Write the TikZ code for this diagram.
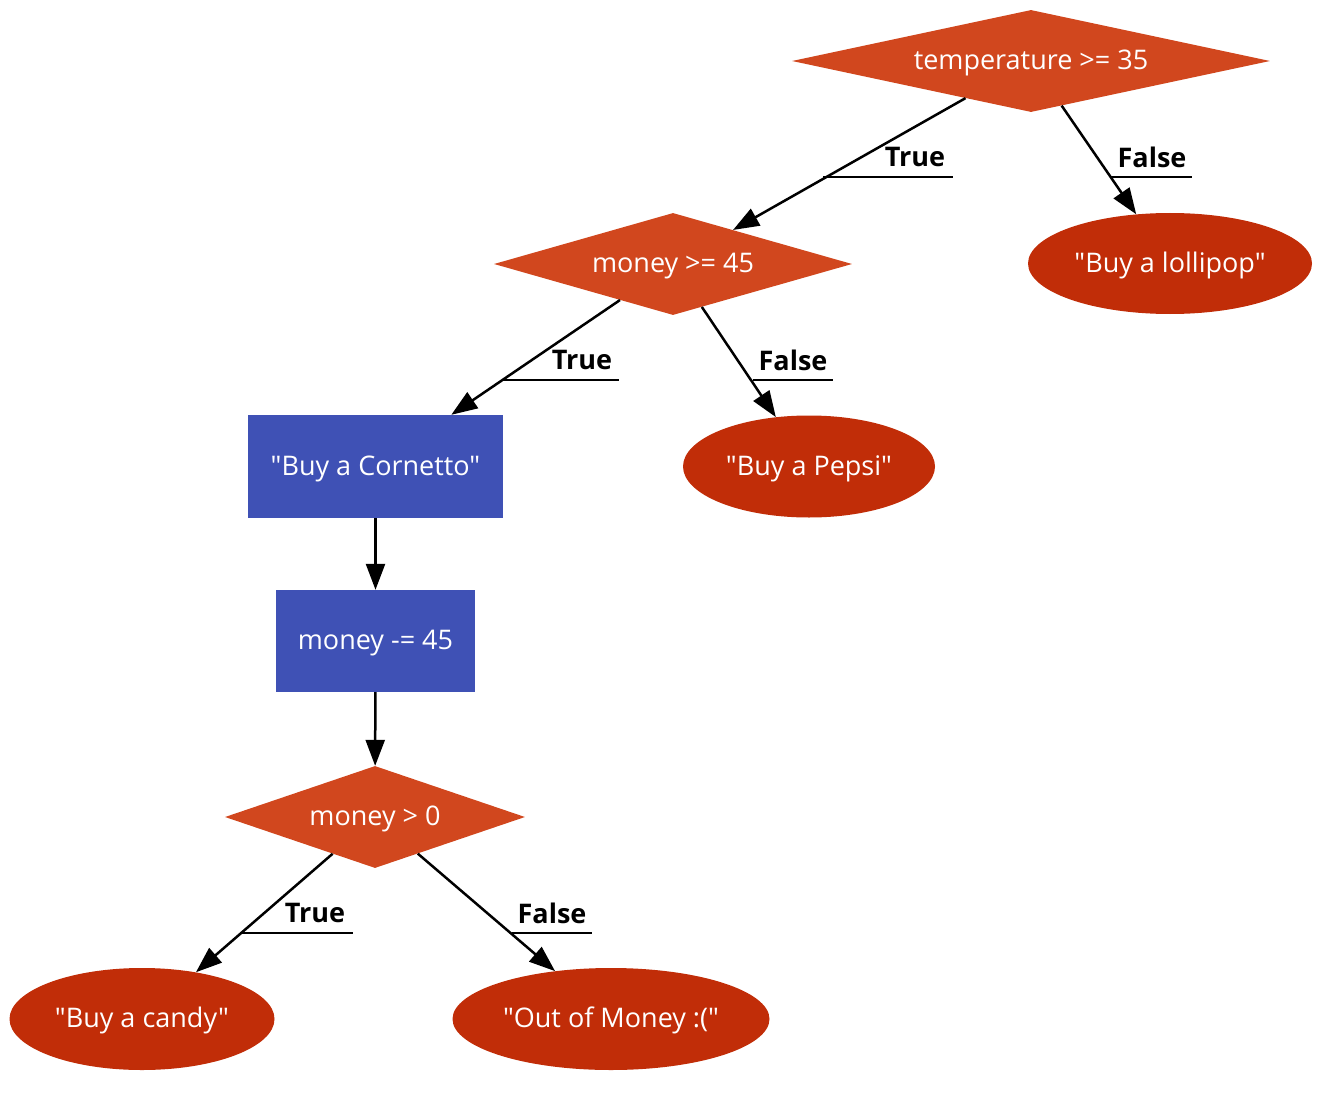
\documentclass[tikz,border=0pt]{standalone}
\usepackage{fontspec}
\setmainfont{Open Sans}[Ligatures=TeXOff]
\usetikzlibrary{shapes.geometric,arrows.meta}
\definecolor{decc}{RGB}{209,71,30}
\definecolor{endc}{RGB}{193,45,8}
\definecolor{actc}{RGB}{63,81,181}
\tikzset{
  base/.style={fill, draw=none, text=white, inner sep=0pt, font=\fontsize{27}{32}\selectfont, text height=21.5pt, text depth=4pt},
  decision/.style={base, fill=decc, diamond},
  terminal/.style={base, fill=endc, ellipse},
  action/.style={base, fill=actc, rectangle},
  edge/.style={line width=2.5pt, -{Triangle[length=26pt,width=19pt]}},
  uline/.style={line width=2.5pt},
  lbl/.style={inner sep=0pt, font=\fontsize{27}{32}\selectfont\bfseries}
}
\begin{document}
\begin{tikzpicture}[x=1pt,y=-1pt]
\useasboundingbox (0,0) rectangle (1336,1094);
\node[decision, shape aspect=4.686, minimum width=478pt, minimum height=102pt] (d1) at (1031,61) {temperature >= 35};
\node[decision, shape aspect=3.51, minimum width=358pt, minimum height=102pt] (d2) at (673,264) {money >= 45};
\node[terminal, minimum width=284pt, minimum height=101pt] (lol) at (1170,263.5) {"Buy a lollipop"};
\node[action, minimum width=255pt, minimum height=103pt] (corn) at (375.5,466.5) {"Buy a Cornetto"};
\node[terminal, minimum width=252pt, minimum height=102pt] (pep) at (809,466.5) {"Buy a Pepsi"};
\node[action, minimum width=199pt, minimum height=102pt] (sub) at (375.5,641) {money -= 45};
\node[decision, shape aspect=2.94, minimum width=300pt, minimum height=102pt] (d3) at (375,817) {money > 0};
\node[terminal, minimum width=265pt, minimum height=102pt] (candy) at (142,1019) {"Buy a candy"};
\node[terminal, minimum width=317pt, minimum height=102pt] (out) at (611,1019) {"Out of Money :("};

\draw[edge] (d1) -- (d2);
\draw[edge] (d1) -- (lol);
\draw[edge] (d2) -- (corn);
\draw[edge] (d2) -- (pep);
\draw[edge] (corn) -- (sub);
\draw[edge] (sub) -- (d3);
\draw[edge] (d3) -- (candy);
\draw[edge] (d3) -- (out);

\node[lbl] (t1) at (915,157) {True};
\node[lbl] (f1) at (1152,157) {False};
\node[lbl] (t2) at (582,360) {True};
\node[lbl] (f2) at (793,360) {False};
\node[lbl] (t3) at (315,913) {True};
\node[lbl] (f3) at (552,913) {False};

\coordinate (t1a) at (823,177); \coordinate (t1b) at (953,177);
\coordinate (f1a) at (1111,177); \coordinate (f1b) at (1192,177);
\coordinate (t2a) at (503,380); \coordinate (t2b) at (619,380);
\coordinate (f2a) at (753,380); \coordinate (f2b) at (833,380);
\coordinate (t3a) at (241,933); \coordinate (t3b) at (353,933);
\coordinate (f3a) at (512,933); \coordinate (f3b) at (592,933);
\draw[uline] (t1a) -- (t1b);
\draw[uline] (f1a) -- (f1b);
\draw[uline] (t2a) -- (t2b);
\draw[uline] (f2a) -- (f2b);
\draw[uline] (t3a) -- (t3b);
\draw[uline] (f3a) -- (f3b);
\end{tikzpicture}
\end{document}
